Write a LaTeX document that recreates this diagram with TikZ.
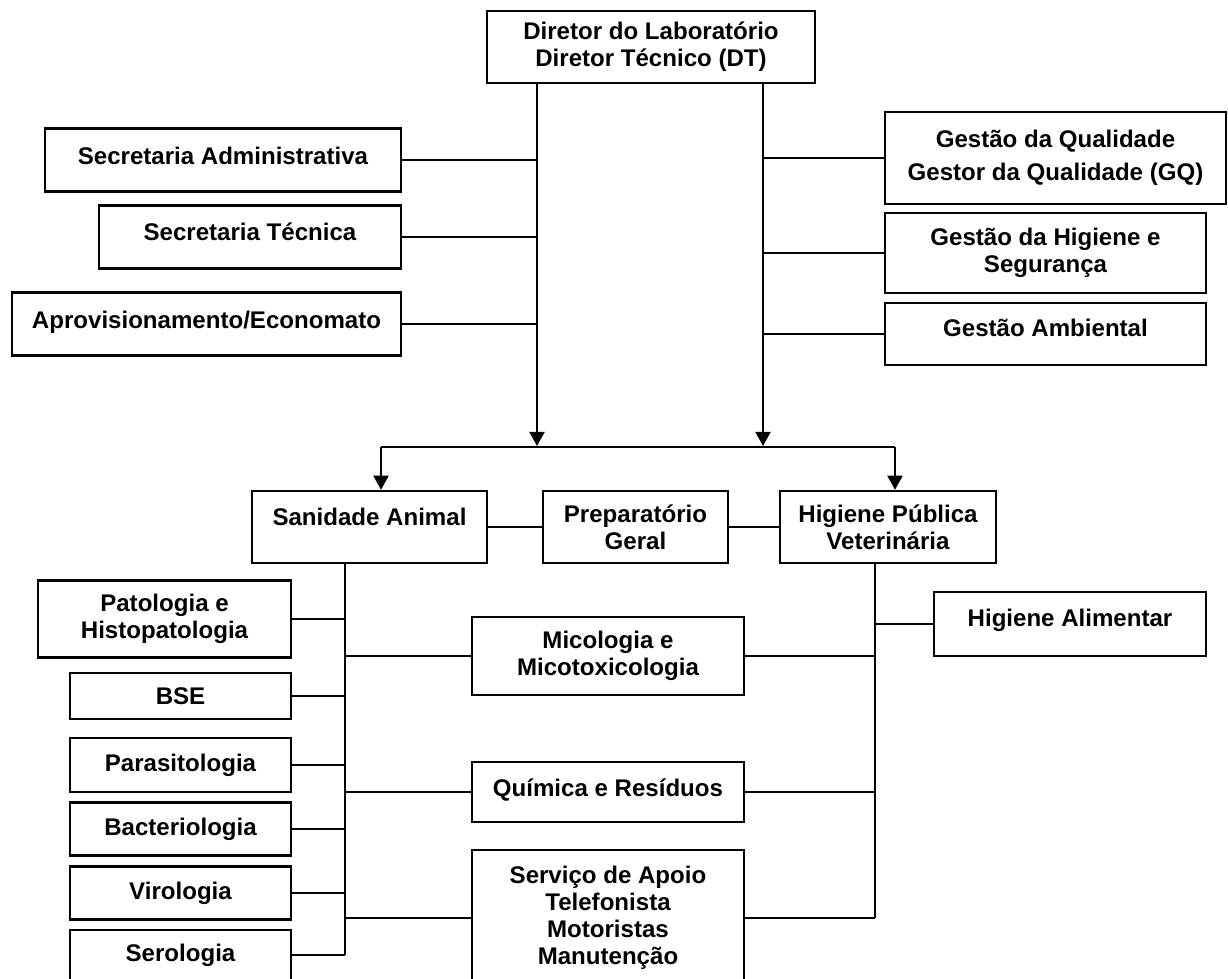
\documentclass[tikz,border=0pt]{standalone}
\usepackage{fontspec}
\setmainfont{Liberation Sans}
\usetikzlibrary{arrows.meta}
\tikzset{
    unit/.style={draw, line width=1.4pt, align=center, inner sep=2pt,
        font=\fontsize{13.7}{15.4}\selectfont\bfseries},
    boxsize/.style 2 args={minimum width=#1*0.02cm, minimum height=#2*0.02cm},
    lift/.style={text depth=#1},
    link/.style={line width=1.3pt},
    flow/.style={link, -{Triangle[length=8pt, width=8.5pt]}}
}

\begin{document}
\begin{tikzpicture}[x=0.02cm, y=-0.02cm]
    \fill[white] (0,0) rectangle (1228,978);
    \useasboundingbox (0,0) rectangle (1228,978);

    % Director
    \node[unit, boxsize={328}{72}] (dir) at (651,47) {Diretor do Laboratório\\Diretor Técnico (DT)};

    % Staff units, left
    \node[unit, boxsize={356}{63}, lift=5.1pt] (secadm) at (223,160) {Secretaria Administrativa};
    \node[unit, boxsize={302}{63}, lift=6.3pt] (sectec) at (250,237) {Secretaria Técnica};
    \node[unit, boxsize={389}{63}, lift=5.1pt] (aprov) at (206.5,324) {Aprovisionamento/Economato};

    % Staff units, right
    \node[unit, boxsize={341}{92}] (gq) at (1055.5,158) {Gestão da Qualidade\\[3.4pt]Gestor da Qualidade (GQ)};
    \node[unit, boxsize={321}{80}] (gh) at (1045.5,253) {Gestão da Higiene e\\Segurança};
    \node[unit, boxsize={321}{62}, lift=6.8pt] (ga) at (1045.5,334) {Gestão Ambiental};

    % Departments
    \node[unit, boxsize={235}{72}, lift=11.4pt] (san) at (369.5,527) {Sanidade Animal};
    \node[unit, boxsize={185}{72}] (prep) at (635.5,527) {Preparatório\\Geral};
    \node[unit, boxsize={216}{72}] (hpv) at (888,527) {Higiene Pública\\Veterinária};

    % Sanidade Animal sections
    \node[unit, boxsize={253}{77}] (pat) at (164.5,619) {Patologia e\\Histopatologia};
    \node[unit, boxsize={221}{46}] (bse) at (180.5,696) {BSE};
    \node[unit, boxsize={221}{54}] (para) at (180.5,765) {Parasitologia};
    \node[unit, boxsize={221}{53}] (bact) at (180.5,829) {Bacteriologia};
    \node[unit, boxsize={221}{53}] (viro) at (180.5,893) {Virologia};
    \node[unit, boxsize={221}{50}] (sero) at (180.5,955) {Serologia};

    % Shared sections
    \node[unit, boxsize={272}{78}] (mico) at (608,656) {Micologia e\\Micotoxicologia};
    \node[unit, boxsize={272}{60}, lift=4.6pt] (quim) at (608,792) {Química e Resíduos};
    \node[unit, boxsize={272}{136}] (serv) at (608,918) {Serviço de Apoio\\Telefonista\\Motoristas\\Manutenção};

    % Higiene Publica Veterinaria section
    \node[unit, boxsize={272}{64}, lift=6.8pt] (halim) at (1070,624) {Higiene Alimentar};

    % Trunk ends
    \coordinate (tl) at (537,446);
    \coordinate (tr) at (763,446);
    \coordinate (bl) at (381,447);
    \coordinate (br) at (895,447);
    \coordinate (sl) at (345,955);
    \coordinate (hl) at (875,918);

    % Director to departments
    \draw[flow] (dir.south -| tl) -- (tl);
    \draw[flow] (dir.south -| tr) -- (tr);
    \foreach \n in {secadm, sectec, aprov}
        \draw[link] (\n.east) -- (\n.east -| tl);
    \foreach \n in {gq, gh, ga}
        \draw[link] (\n.west) -- (\n.west -| tr);
    \draw[link] (bl) -- (br);
    \draw[flow] (bl) -- (bl |- san.north);
    \draw[flow] (br) -- (br |- hpv.north);
    \draw[link] (san.east) -- (prep.west);
    \draw[link] (prep.east) -- (hpv.west);

    % Sanidade Animal trunk
    \draw[link] (san.south -| sl) -- (sl);
    \foreach \n in {pat, bse, para, bact, viro, sero}
        \draw[link] (\n.east) -- (\n.east -| sl);
    \foreach \n in {mico, quim, serv}
        \draw[link] (\n.west) -- (\n.west -| sl);

    % Higiene Publica Veterinaria trunk
    \draw[link] (hpv.south -| hl) -- (hl);
    \draw[link] (halim.west) -- (halim.west -| hl);
    \foreach \n in {mico, quim, serv}
        \draw[link] (\n.east) -- (\n.east -| hl);
\end{tikzpicture}
\end{document}
